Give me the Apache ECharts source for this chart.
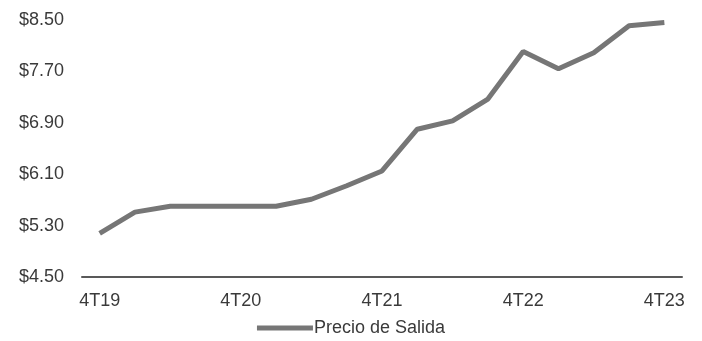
<!DOCTYPE html>
<html><head><meta charset="utf-8">
<script src="https://cdn.jsdelivr.net/npm/echarts@6/dist/echarts.min.js"></script>
<style>html,body{margin:0;padding:0;background:#fff}#c{width:702px;height:341px}</style>
</head><body><div id="c"></div>
<script>
const categories = ['4T19','1T20','2T20','3T20','4T20','1T21','2T21','3T21','4T21','1T22','2T22','3T22','4T22','1T23','2T23','3T23','4T23'];
const precioSalida = [5.18,5.51,5.60,5.60,5.60,5.60,5.71,5.92,6.15,6.80,6.93,7.27,8.01,7.74,7.99,8.41,8.46];
const seriesName = 'Precio de Salida';

const chart = echarts.init(document.getElementById('c'));
const font = '"Liberation Sans", Arial, sans-serif';
chart.setOption({
  animation: false,
  grid: {left: 82, right: 20, top: 20, bottom: 64, containLabel: false},
  xAxis: {
    type: 'category', data: categories, boundaryGap: true,
    axisLine: {lineStyle: {color: '#595959', width: 2}},
    axisTick: {show: false},
    axisLabel: {interval: 3, color: '#3a3a3a', fontSize: 18, fontFamily: font, margin: 15}
  },
  yAxis: {
    type: 'value', min: 4.5, max: 8.5, interval: 0.8,
    axisLine: {show: false}, axisTick: {show: false}, splitLine: {show: false},
    axisLabel: {color: '#3a3a3a', fontSize: 18, fontFamily: font, margin: 18,
      formatter: v => '$' + v.toFixed(2)}
  },
  legend: {
    bottom: -1, left: 'center', itemWidth: 56, itemHeight: 5, itemGap: 10,
    icon: 'rect',
    textStyle: {color: '#3a3a3a', fontSize: 18, fontFamily: font, padding: [0,0,0,-4]},
    data: [seriesName]
  },
  series: [{
    name: seriesName, type: 'line', data: precioSalida,
    symbol: 'none', lineStyle: {color: '#767676', width: 5}, itemStyle: {color: '#767676'}
  }]
});
</script></body></html>
